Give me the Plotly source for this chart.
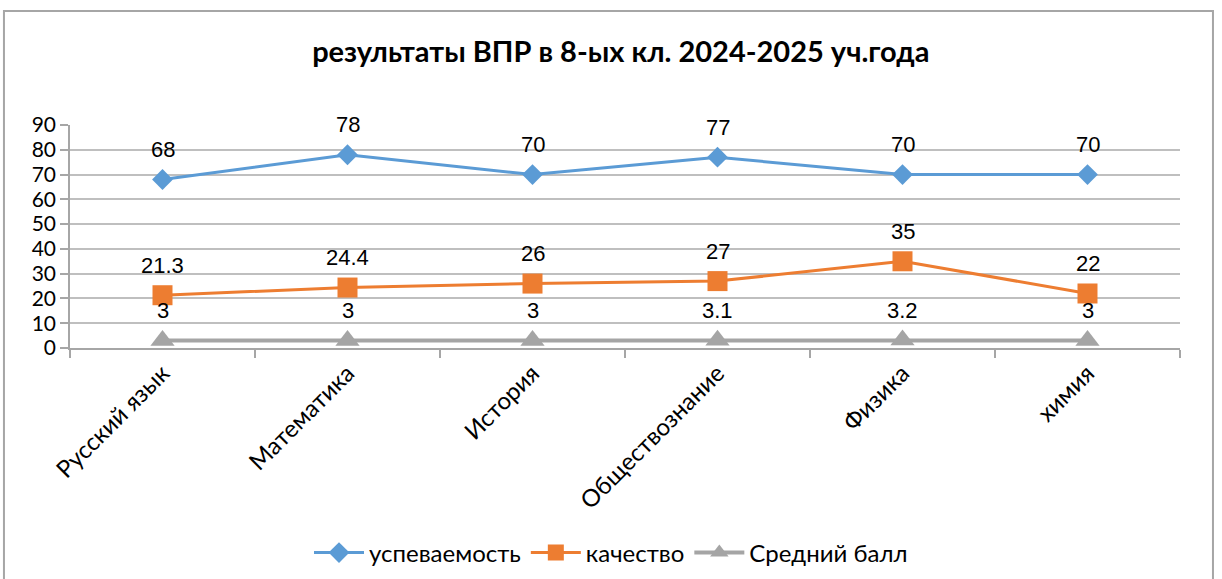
import plotly.graph_objects as go

categories = ["Русский язык", "Математика", "История", "Обществознание", "Физика", "химия"]
uspev = [68, 78, 70, 77, 70, 70]
kachestvo = [21.3, 24.4, 26, 27, 35, 22]
sredniy = [3, 3, 3, 3.1, 3.2, 3]
uspev_labels = ["68", "78", "70", "77", "70", "70"]
kach_labels = ["21.3", "24.4", "26", "27", "35", "22"]
sred_labels = ["3", "3", "3", "3.1", "3.2", "3"]
y_ticks = [0, 10, 20, 30, 40, 50, 60, 70, 80, 90]

series = [
    ("успеваемость", uspev, uspev_labels, "#5b9bd5", "diamond", 16, 3),
    ("качество", kachestvo, kach_labels, "#ed7d31", "square", 20, 3),
    ("Средний балл", sredniy, sred_labels, "#a5a5a5", "triangle-up", 21, 4),
]

fig = go.Figure()
annotations = []
for name, vals, labels, color, sym, size, lw in series:
    fig.add_trace(go.Scatter(
        x=categories, y=vals, name=name, mode="lines+markers",
        line=dict(color=color, width=lw),
        marker=dict(symbol=sym, size=size, color=color),
    ))
    for c, v, t in zip(categories, vals, labels):
        annotations.append(dict(
            x=c, y=v, text=t, showarrow=False, yshift=30,
            font=dict(family="Liberation Sans, Arial", size=22, color="#000000"),
        ))

fig.update_layout(
    width=1222, height=579,
    paper_bgcolor="white", plot_bgcolor="white",
    margin=dict(l=70, r=42, t=125, b=231),
    title=dict(text="<b>результаты ВПР в 8-ых кл. 2024-2025 уч.года</b>",
               x=0.508, xanchor="center", y=1 - 52 / 579, yanchor="middle",
               font=dict(family="Lato", size=29, color="#000000")),
    annotations=annotations,
    showlegend=True,
    legend=dict(orientation="h", x=0.5, xanchor="center", xref="container",
                y=1 - 553 / 579, yanchor="middle", yref="container",
                font=dict(family="Lato", size=24, color="#000000"),
                itemwidth=50, traceorder="normal"),
)

fig.update_xaxes(
    type="category", range=[-0.5, 5.5],
    showline=True, linecolor="#a6a6a6", linewidth=1.5,
    ticks="outside", tickson="boundaries", ticklen=8, tickcolor="#a6a6a6", tickwidth=1.5,
    tickangle=-45, tickfont=dict(family="Lato", size=24, color="#000000"),
    showgrid=False,
)
fig.update_yaxes(
    range=[0, 90], tickvals=y_ticks, ticktext=[str(v) for v in y_ticks],
    showline=True, linecolor="#a6a6a6", linewidth=1.5,
    ticks="outside", ticklen=8, tickcolor="#a6a6a6", tickwidth=1.5,
    showgrid=True, gridcolor="#bfbfbf", gridwidth=1.5,
    tickfont=dict(family="Lato", size=21, color="#000000"),
    zeroline=False,
)

# outer chart border (top, left, right)
fig.add_shape(type="path", xref="paper", yref="paper",
              path="M -0.0595,-1.2 L -0.0595,1.5113 L 1.0297,1.5113 L 1.0297,-1.2",
              line=dict(color="#a6a6a6", width=2))

fig.write_html("out.html", config={"displayModeBar": False},
               post_script="document.body.style.margin='0';document.body.style.overflow='hidden';")
